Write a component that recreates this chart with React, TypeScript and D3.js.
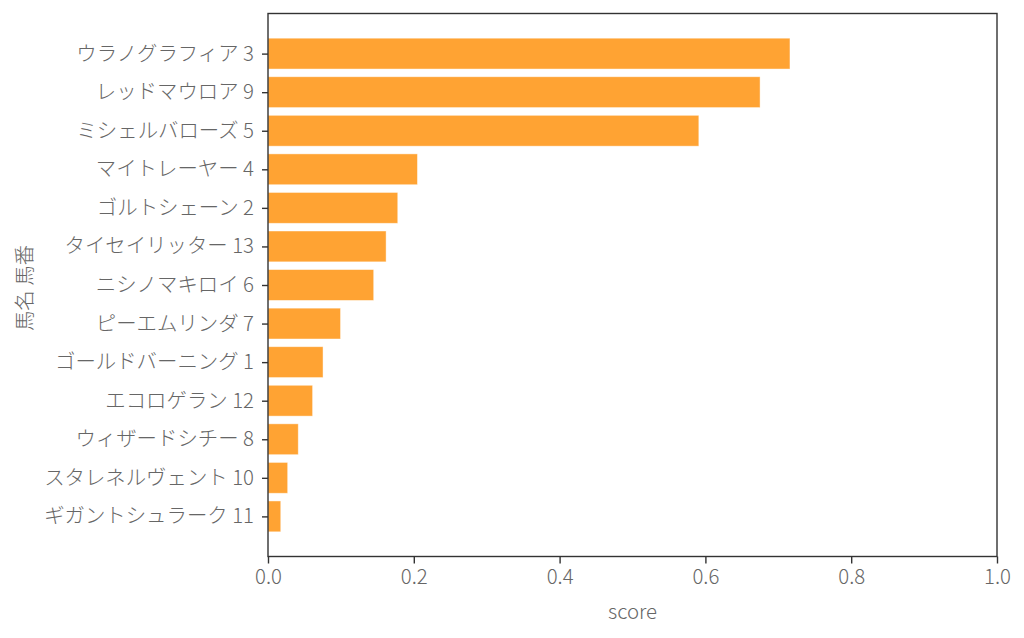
import * as d3 from 'd3';
import {useEffect, useRef} from "react";
import * as React from "react";

// horse names with their numbers, top to bottom
const horses: string[] = [
    "ウラノグラフィア 3",
    "レッドマウロア 9",
    "ミシェルバローズ 5",
    "マイトレーヤー 4",
    "ゴルトシェーン 2",
    "タイセイリッター 13",
    "ニシノマキロイ 6",
    "ピーエムリンダ 7",
    "ゴールドバーニング 1",
    "エコロゲラン 12",
    "ウィザードシチー 8",
    "スタレネルヴェント 10",
    "ギガントシュラーク 11",
];

const scores: number[] = [
    0.716, 0.675, 0.591, 0.205, 0.178, 0.162, 0.145,
    0.0995, 0.0755, 0.0612, 0.0415, 0.027, 0.0175,
];

const xTicks: number[] = [0, 0.2, 0.4, 0.6, 0.8, 1.0];

const FONT = "'Noto Sans CJK JP Light', 'Noto Sans CJK JP', 'Noto Sans', sans-serif";
const TEXT = "#666";
const FS = "20.4px";

const App: React.FC = () => {
    const svgRef = useRef<SVGSVGElement | null>(null);

    useEffect(() => {
        const W = 1024, H = 638;
        const margin = { top: 13.5, right: 27, bottom: 81.5, left: 268 };
        const width = W - margin.left - margin.right;
        const height = H - margin.top - margin.bottom;

        const svg = d3.select(svgRef.current)
            .attr("width", W)
            .attr("height", H)
            .html("")
            .append("g")
            .attr("transform", `translate(${margin.left},${margin.top})`);

        const n = horses.length;
        const barH = 0.8;
        const pad = (n - 1 + barH) * 0.05;

        const xScale = d3.scaleLinear().domain([0, 1]).range([0, width]);
        const yScale = d3.scaleLinear()
            .domain([-barH / 2 - pad, n - 1 + barH / 2 + pad])
            .range([0, height]);

        svg.selectAll(".bar")
            .data(scores)
            .enter()
            .append("rect")
            .attr("class", "bar")
            .attr("x", xScale(0))
            .attr("y", (_, i) => yScale(i - barH / 2))
            .attr("width", d => xScale(d) - xScale(0))
            .attr("height", yScale(barH) - yScale(0))
            .attr("fill", "#ffa333")
            .attr("stroke", "rgba(255,255,255,0.55)")
            .attr("stroke-width", 0.8);

        // frame
        svg.append("rect")
            .attr("width", width)
            .attr("height", height)
            .attr("fill", "none")
            .attr("stroke", "#333")
            .attr("stroke-width", 1.4);

        const xAxis = svg.append("g")
            .attr("transform", `translate(0, ${height})`)
            .call(d3.axisBottom(xScale).tickValues(xTicks).tickFormat(d3.format(".1f")).tickSizeOuter(0).tickSize(7).tickPadding(6));

        const yAxis = svg.append("g")
            .call(d3.axisLeft(yScale)
                .tickValues(d3.range(n))
                .tickFormat((d) => horses[d as number])
                .tickSizeOuter(0).tickSize(6).tickPadding(8));

        [xAxis, yAxis].forEach(ax => {
            ax.select(".domain").remove();
            ax.selectAll(".tick line").attr("stroke", "#333").attr("stroke-width", 1.4);
            ax.selectAll(".tick text")
                .attr("fill", TEXT)
                .style("font-family", FONT)
                .style("font-weight", 300)
                .style("font-size", FS);
        });

        svg.append("text")
            .attr("x", width / 2)
            .attr("y", height + 62)
            .attr("text-anchor", "middle")
            .attr("fill", TEXT)
            .style("font-family", FONT)
            .style("font-weight", 300)
            .style("font-size", FS)
            .text("score");

        svg.append("text")
            .attr("transform", `translate(${23 - margin.left}, ${288 - margin.top}) rotate(-90)`)
            .attr("text-anchor", "middle")
            .attr("dominant-baseline", "central")
            .attr("fill", TEXT)
            .style("font-family", FONT)
            .style("font-weight", 300)
            .style("font-size", FS)
            .text("馬名 馬番");
    }, []);

    return <svg ref={svgRef} style={{ position: "absolute", left: 0, top: 0 }}></svg>;
};

export default App;
